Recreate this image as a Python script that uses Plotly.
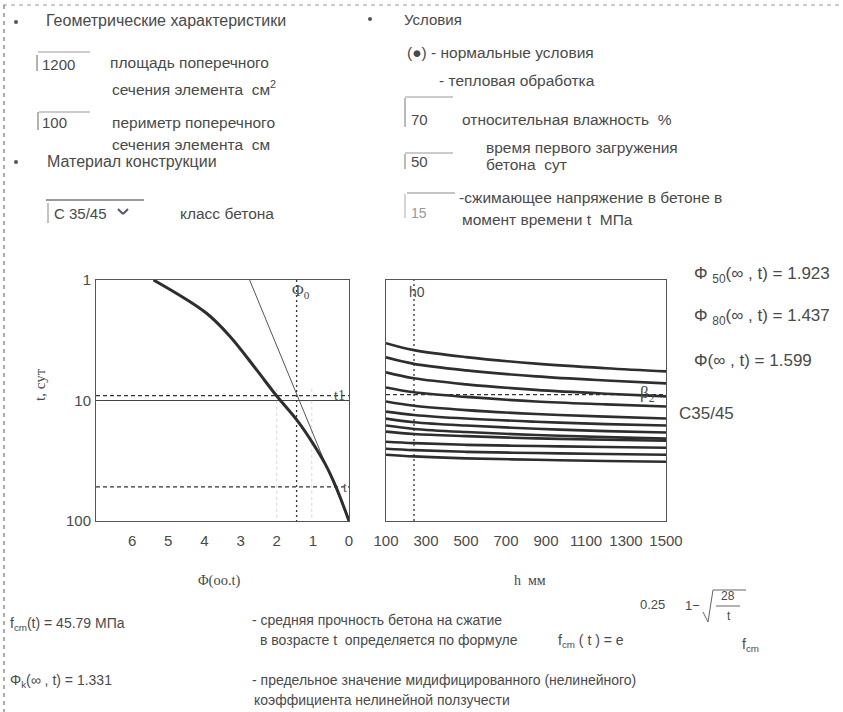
import plotly.graph_objects as go

W, H = 843, 712
SANS = "Liberation Sans"
SERIF = "Liberation Serif"
TXT = "#4a4a4a"
INK = "#2e2e2e"

# ---------------- data ----------------
phi_tickvals = [6, 5, 4, 3, 2, 1, 0]
phi_ticktext = ["6", "5", "4", "3", "2", "1", "0"]
t_tickvals = [1, 10, 100]
t_ticktext = ["1", "10", "100"]
h_tickvals = [100, 300, 500, 700, 900, 1100, 1300, 1500]

# creep coefficient curve phi(inf, t0) vs loading age t0 (days)
t_creep = [1, 1.88, 2.97, 5.6, 9.1, 14.7, 22.9, 33.6, 53, 100]
phi_creep = [5.41, 3.95, 3.28, 2.55, 2.01, 1.43, 0.99, 0.66, 0.35, 0.0]
# tangent / construction line
t_tangent = [1, 100]
phi_tangent = [2.75, 0.0]

phi0 = 1.45
t1 = 9.1
t_load = 52
t_ref = 10
phi_faint = [2.0, 1.03]

# right nomogram: curves vs notional size h0 (mm), ordinate in nomogram units
h_grid = [100, 240, 500, 850, 1200, 1500]
curve_1 = [73.8, 70.9, 68.0, 65.3, 63.4, 62.1]
curve_2 = [67.9, 65.2, 62.5, 60.0, 58.3, 57.1]
curve_3 = [61.7, 59.2, 56.7, 54.4, 52.8, 51.7]
curve_4 = [55.4, 53.4, 51.5, 49.6, 48.4, 47.5]
curve_5 = [49.6, 47.8, 46.0, 44.4, 43.3, 42.5]
curve_6 = [45.4, 44.0, 42.5, 41.2, 40.2, 39.6]
curve_7 = [42.5, 41.0, 39.6, 38.3, 37.3, 36.7]
curve_8 = [39.6, 38.2, 36.9, 35.7, 34.8, 34.2]
curve_9 = [37.1, 36.1, 35.2, 34.3, 33.7, 33.3]
curve_10 = [32.9, 32.3, 31.6, 31.1, 30.7, 30.4]
curve_11 = [30.0, 29.4, 28.7, 28.2, 27.8, 27.5]
curve_12 = [27.5, 26.8, 26.0, 25.4, 24.9, 24.6]
curves = [curve_1, curve_2, curve_3, curve_4, curve_5, curve_6,
          curve_7, curve_8, curve_9, curve_10, curve_11, curve_12]
h0 = 240
beta2_level = 52.4
h_range = [100, 1500]
v_range = [0, 100]
phi_range = [7.0, 0]

# ---------------- helpers ----------------
def px(x):
    return x / W

def py(y):
    return 1 - y / H

fig = go.Figure()

# left plot traces
fig.add_trace(go.Scatter(x=[phi_range[0], phi_range[1]], y=[t_ref, t_ref], mode="lines",
                         line=dict(color="#444", width=1.2), xaxis="x", yaxis="y"))
for pf in phi_faint:
    fig.add_trace(go.Scatter(x=[pf, pf], y=[8, 100], mode="lines",
                             line=dict(color="#d8d8d8", width=1, dash="dot"), xaxis="x", yaxis="y"))
fig.add_trace(go.Scatter(x=[phi_range[0], phi_range[1]], y=[t1, t1], mode="lines",
                         line=dict(color="#333", width=1.2, dash="4px,3px"), xaxis="x", yaxis="y"))
fig.add_trace(go.Scatter(x=[phi_range[0], phi_range[1]], y=[t_load, t_load], mode="lines",
                         line=dict(color="#333", width=1.2, dash="4px,3px"), xaxis="x", yaxis="y"))
fig.add_trace(go.Scatter(x=[phi0, phi0], y=[1, 100], mode="lines",
                         line=dict(color="#333", width=1.3, dash="2px,3px"), xaxis="x", yaxis="y"))
fig.add_trace(go.Scatter(x=phi_tangent, y=t_tangent, mode="lines",
                         line=dict(color="#555", width=1), xaxis="x", yaxis="y"))
fig.add_trace(go.Scatter(x=phi_creep, y=t_creep, mode="lines",
                         line=dict(color=INK, width=3, shape="spline", smoothing=1),
                         xaxis="x", yaxis="y"))

# right plot traces
fig.add_trace(go.Scatter(x=h_range, y=[beta2_level, beta2_level], mode="lines",
                         line=dict(color="#333", width=1.2, dash="4px,3px"), xaxis="x2", yaxis="y2"))
fig.add_trace(go.Scatter(x=[h0, h0], y=v_range, mode="lines",
                         line=dict(color="#333", width=1.3, dash="2px,3px"), xaxis="x2", yaxis="y2"))
for c in curves:
    fig.add_trace(go.Scatter(x=h_grid, y=c, mode="lines",
                             line=dict(color=INK, width=2.6, shape="spline"), xaxis="x2", yaxis="y2"))

ax_common = dict(showgrid=False, zeroline=False, showline=True, mirror=True,
                 linecolor="#555", linewidth=1, ticks="", automargin=False,
                 tickfont=dict(family=SANS, size=15, color=TXT))

ydom = [py(521), py(280)]
fig.update_layout(
    width=W, height=H, autosize=False,
    margin=dict(l=0, r=0, t=0, b=0, pad=0, autoexpand=False),
    paper_bgcolor="white", plot_bgcolor="white",
    showlegend=False, hovermode=False,
    xaxis=dict(domain=[px(96), px(349)], range=phi_range, tickvals=phi_tickvals,
               ticktext=phi_ticktext, anchor="y", ticklabelstandoff=6, **ax_common),
    yaxis=dict(domain=ydom, type="log", range=[2, 0], tickvals=t_tickvals,
               ticktext=t_ticktext, anchor="x", ticklabelstandoff=1, **ax_common),
    xaxis2=dict(domain=[px(386), px(666)], range=h_range, tickvals=h_tickvals,
                anchor="y2", ticklabelstandoff=6, **ax_common),
    yaxis2=dict(domain=ydom, range=v_range, showticklabels=False, anchor="x2", **ax_common),
)

ann = []

def txt(x, y, s, size=15.5, family=SANS, anchor="left", color=TXT, angle=0):
    ann.append(dict(x=px(x), y=py(y), xref="paper", yref="paper", text=s, showarrow=False,
                    xanchor=anchor, yanchor="middle", textangle=angle,
                    font=dict(family=family, size=size, color=color)))

# form texts - left column
txt(44, 21, "Геометрические характеристики", 16)
txt(40, 64, "1200", 15)
txt(108, 63, "площадь поперечного")
txt(110, 88, "сечения элемента  см<sup>2</sup>")
txt(40, 123, "100", 15)
txt(110, 123, "периметр поперечного")
txt(110, 145, "сечения элемента  см")
txt(45, 161, "Материал конструкции", 16)
txt(52, 213, "C 35/45", 15)
txt(178, 213, "класс бетона")
# form texts - right column
txt(402, 20, "Условия", 15)
txt(405, 53, "(●) - нормальные условия")
txt(437, 80, "- тепловая обработка")
txt(409, 120, "70", 15)
txt(460, 119, "относительная влажность  %")
txt(484, 147, "время первого загружения")
txt(409, 161, "50", 15)
txt(484, 164, "бетона  сут")
txt(409, 213, "15", 14, color="#999")
txt(457, 197, "-сжимающее напряжение в бетоне в")
txt(460, 220, "момент времени t  МПа")

# results on the right
txt(692, 275, "Φ <sub>50</sub>(∞ , t) = 1.923", 17)
txt(692, 317, "Φ <sub>80</sub>(∞ , t) = 1.437", 17)
txt(692, 360, "Φ(∞ , t) = 1.599", 17)
txt(677, 413, "C35/45", 17)

# plot labels
txt(290, 291, "Φ<sub>0</sub>", 16, SERIF)
txt(332, 395, "t1", 14, SERIF)
txt(341, 487, "t", 14, SERIF)
txt(407, 292, "h0", 14)
txt(638, 394, "β<sub>2</sub>", 17, SERIF)

# axis titles
txt(40, 385, "t, сут", 15, SERIF, anchor="center", angle=-90)
txt(219, 580, "Φ(oo.t)", 14.5, SERIF, anchor="center")
txt(530, 580, "h  мм", 14, SERIF, anchor="center")

# bottom block
txt(8, 624, "f<sub>cm</sub>(t) = 45.79 МПа", 14)
txt(250, 620, "- средняя прочность бетона на сжатие", 14)
txt(258, 640, "в возрасте t  определяется по формуле", 14)
txt(556, 641, "f<sub>cm</sub> ( t ) = e", 14)
txt(638, 604, "0.25", 13)
txt(683, 605, "1−", 13)
txt(719, 596, "28", 12)
txt(725, 616, "t", 12)
txt(740, 645, "f<sub>cm</sub>", 14)
txt(8, 681, "Φ<sub>k</sub>(∞ , t) = 1.331", 14)
txt(250, 680, "- предельное значение мидифицированного (нелинейного)", 14)
txt(252, 700, "коэффициента нелинейной ползучести", 14)

shapes = []

def seg(x0, y0, x1, y1, color="#888", width=1, dash=None):
    d = dict(type="line", xref="paper", yref="paper", x0=px(x0), y0=py(y0),
             x1=px(x1), y1=py(y1), line=dict(color=color, width=width))
    if dash:
        d["line"]["dash"] = dash
    shapes.append(d)

# dashed border of the worksheet region
seg(3, 5, 843, 5, "#999", 1, "4px,4px")
seg(4, 5, 4, 712, "#777", 1.2, "4px,4px")

# input boxes
seg(38, 52, 90, 52, "#999")
seg(37, 55, 37, 71, "#666")
seg(39, 112, 90, 112, "#999")
seg(38, 112, 38, 130, "#666")
seg(46, 200, 144, 200, "#777", 1.5)
seg(48, 203, 48, 223, "#888")
seg(405, 97, 453, 97, "#999")
seg(405, 98, 405, 127, "#777")
seg(405, 153, 453, 153, "#999")
seg(405, 154, 405, 169, "#777")
seg(407, 193, 455, 193, "#c4c4c4", 2)
seg(405, 194, 405, 218, "#aaa")
# dropdown chevron
seg(118, 209, 123, 214, "#556", 2)
seg(123, 214, 128, 209, "#556", 2)

# sqrt sign and fraction bar in formula
seg(703, 612, 708, 622, "#666")
seg(708, 622, 713, 590, "#666")
seg(713, 590, 746, 590, "#666")
seg(716, 606, 740, 606, "#666")

# bullets
for bx, by in [(16, 22), (16, 162), (370, 19)]:
    shapes.append(dict(type="circle", xref="paper", yref="paper",
                       x0=px(bx - 2), x1=px(bx + 2), y0=py(by + 2), y1=py(by - 2),
                       fillcolor="#555", line=dict(width=0)))

fig.update_layout(annotations=ann, shapes=shapes)
fig.write_html("out.html", config={"displayModeBar": False},
               post_script="document.body.style.margin='0';document.body.style.overflow='hidden';")
